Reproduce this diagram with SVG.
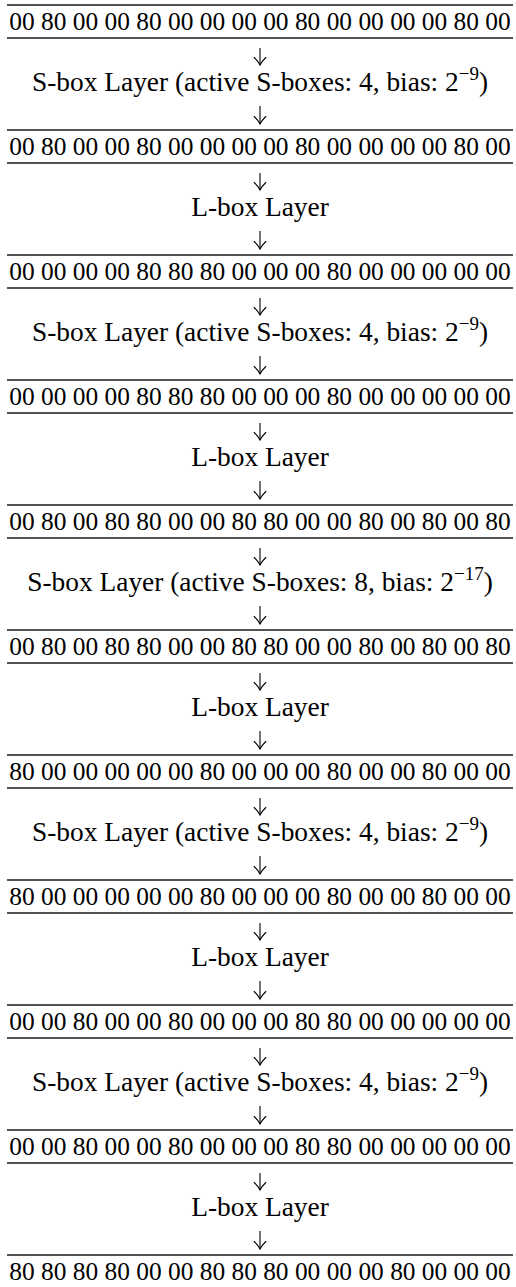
<svg xmlns="http://www.w3.org/2000/svg" width="516" height="1287" viewBox="0 0 516 1287">
<style>
text{font-family:"Liberation Serif","Times New Roman",serif;font-size:25.4px;text-anchor:middle;fill:#000}
.lbl{font-size:27.4px}
.rule{stroke:#1a1a1a;stroke-width:1.3}
.arr{stroke:#000;stroke-width:1.1;fill:none;marker-end:url(#ah)}
.sup{font-size:19px}
</style>
<defs>
<marker id="ah" markerUnits="userSpaceOnUse" orient="auto" refX="0" refY="0" markerWidth="12" markerHeight="14" viewBox="-8 -7 9 14" overflow="visible">
<path d="M-7.5,-5.8 Q-3.5,-1.8 0,0 Q-3.5,1.8 -7.5,5.8" fill="none" stroke="#000" stroke-width="1.1" stroke-linecap="round"/>
</marker>
</defs>
<rect width="516" height="1287" fill="#fff"/>

<g id="row0"><line class="rule" x1="7" y1="5" x2="513" y2="5"/><text x="260" y="30">00 80 00 00 80 00 00 00 00 80 00 00 00 00 80 00</text><line class="rule" x1="7" y1="38" x2="513" y2="38"/></g>
<g id="sbox1"><text class="lbl" x="260" y="91">S-box Layer (active S-boxes: 4, bias: 2<tspan class="sup" dy="-11">−9</tspan><tspan dy="11">)</tspan></text></g>
<g id="row1"><line class="rule" x1="7" y1="130" x2="513" y2="130"/><text x="260" y="155">00 80 00 00 80 00 00 00 00 80 00 00 00 00 80 00</text><line class="rule" x1="7" y1="163" x2="513" y2="163"/></g>
<g id="lbox1"><text class="lbl" x="260" y="216">L-box Layer</text></g>
<g id="row2"><line class="rule" x1="7" y1="255" x2="513" y2="255"/><text x="260" y="280">00 00 00 00 80 80 80 00 00 00 80 00 00 00 00 00</text><line class="rule" x1="7" y1="288" x2="513" y2="288"/></g>
<g id="sbox2"><text class="lbl" x="260" y="341">S-box Layer (active S-boxes: 4, bias: 2<tspan class="sup" dy="-11">−9</tspan><tspan dy="11">)</tspan></text></g>
<g id="row3"><line class="rule" x1="7" y1="380" x2="513" y2="380"/><text x="260" y="405">00 00 00 00 80 80 80 00 00 00 80 00 00 00 00 00</text><line class="rule" x1="7" y1="413" x2="513" y2="413"/></g>
<g id="lbox2"><text class="lbl" x="260" y="466">L-box Layer</text></g>
<g id="row4"><line class="rule" x1="7" y1="505" x2="513" y2="505"/><text x="260" y="530">00 80 00 80 80 00 00 80 80 00 00 80 00 80 00 80</text><line class="rule" x1="7" y1="538" x2="513" y2="538"/></g>
<g id="sbox3"><text class="lbl" x="260" y="591">S-box Layer (active S-boxes: 8, bias: 2<tspan class="sup" dy="-11">−17</tspan><tspan dy="11">)</tspan></text></g>
<g id="row5"><line class="rule" x1="7" y1="630" x2="513" y2="630"/><text x="260" y="655">00 80 00 80 80 00 00 80 80 00 00 80 00 80 00 80</text><line class="rule" x1="7" y1="663" x2="513" y2="663"/></g>
<g id="lbox3"><text class="lbl" x="260" y="716">L-box Layer</text></g>
<g id="row6"><line class="rule" x1="7" y1="755" x2="513" y2="755"/><text x="260" y="780">80 00 00 00 00 00 80 00 00 00 80 00 00 80 00 00</text><line class="rule" x1="7" y1="788" x2="513" y2="788"/></g>
<g id="sbox4"><text class="lbl" x="260" y="841">S-box Layer (active S-boxes: 4, bias: 2<tspan class="sup" dy="-11">−9</tspan><tspan dy="11">)</tspan></text></g>
<g id="row7"><line class="rule" x1="7" y1="880" x2="513" y2="880"/><text x="260" y="905">80 00 00 00 00 00 80 00 00 00 80 00 00 80 00 00</text><line class="rule" x1="7" y1="913" x2="513" y2="913"/></g>
<g id="lbox4"><text class="lbl" x="260" y="966">L-box Layer</text></g>
<g id="row8"><line class="rule" x1="7" y1="1005" x2="513" y2="1005"/><text x="260" y="1030">00 00 80 00 00 80 00 00 00 80 80 00 00 00 00 00</text><line class="rule" x1="7" y1="1038" x2="513" y2="1038"/></g>
<g id="sbox5"><text class="lbl" x="260" y="1091">S-box Layer (active S-boxes: 4, bias: 2<tspan class="sup" dy="-11">−9</tspan><tspan dy="11">)</tspan></text></g>
<g id="row9"><line class="rule" x1="7" y1="1130" x2="513" y2="1130"/><text x="260" y="1155">00 00 80 00 00 80 00 00 00 80 80 00 00 00 00 00</text><line class="rule" x1="7" y1="1163" x2="513" y2="1163"/></g>
<g id="lbox5"><text class="lbl" x="260" y="1216">L-box Layer</text></g>
<g id="row10"><line class="rule" x1="7" y1="1255" x2="513" y2="1255"/><text x="260" y="1280">80 80 80 80 00 00 80 80 80 00 00 00 80 00 00 00</text></g>

<g id="connectors">
<line class="arr" x1="260" y1="48" x2="260" y2="65"/><line class="arr" x1="260" y1="106" x2="260" y2="124"/>
<line class="arr" x1="260" y1="173" x2="260" y2="190"/><line class="arr" x1="260" y1="231" x2="260" y2="249"/>
<line class="arr" x1="260" y1="298" x2="260" y2="315"/><line class="arr" x1="260" y1="356" x2="260" y2="374"/>
<line class="arr" x1="260" y1="423" x2="260" y2="440"/><line class="arr" x1="260" y1="481" x2="260" y2="499"/>
<line class="arr" x1="260" y1="548" x2="260" y2="565"/><line class="arr" x1="260" y1="606" x2="260" y2="624"/>
<line class="arr" x1="260" y1="673" x2="260" y2="690"/><line class="arr" x1="260" y1="731" x2="260" y2="749"/>
<line class="arr" x1="260" y1="798" x2="260" y2="815"/><line class="arr" x1="260" y1="856" x2="260" y2="874"/>
<line class="arr" x1="260" y1="923" x2="260" y2="940"/><line class="arr" x1="260" y1="981" x2="260" y2="999"/>
<line class="arr" x1="260" y1="1048" x2="260" y2="1065"/><line class="arr" x1="260" y1="1106" x2="260" y2="1124"/>
<line class="arr" x1="260" y1="1173" x2="260" y2="1190"/><line class="arr" x1="260" y1="1231" x2="260" y2="1249"/>
</g>
</svg>
